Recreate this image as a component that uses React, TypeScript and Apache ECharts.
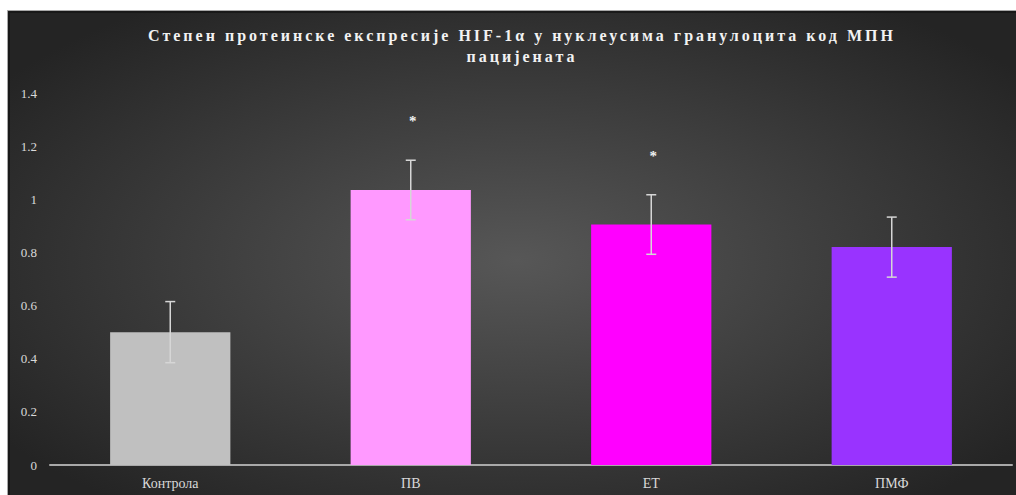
import React, { useEffect, useRef } from "react";
import * as echarts from "echarts";

// Protein expression of HIF-1α in granulocyte nuclei (mean ± error)
const categories = ["Контрола", "ПВ", "ЕТ", "ПМФ"];
const means = [0.5, 1.035, 0.905, 0.82];
const errors = [0.115, 0.112, 0.112, 0.113];
const significance = ["", "*", "*", ""];
const barColors = ["#c0c0c0", "#ff99ff", "#ff00ff", "#9933ff"];
const yTicks = { min: 0, max: 1.4, interval: 0.2 };
const titleLines = [
  "Степен протеинске експресије HIF-1α у нуклеусима гранулоцита код МПН",
  "пацијената",
];

const serif = "Times New Roman, Liberation Serif, DejaVu Serif, serif";

export default function App() {
  const ref = useRef<HTMLDivElement>(null);

  useEffect(() => {
    if (!ref.current) return;
    const chart = echarts.init(ref.current, undefined, { renderer: "svg" });

    const errorData = means.map((m, i) => [i, m - errors[i], m + errors[i], significance[i]]);

    chart.setOption({
      animation: false,
      backgroundColor: "#ffffff",
      graphic: [
        {
          type: "rect",
          z: -10,
          silent: true,
          shape: { x: 7.5, y: 10.5, width: 1020, height: 500 },
          style: {
            fill: new echarts.graphic.RadialGradient(0.5, 0.5, 0.62, [
              { offset: 0, color: "#575757" },
              { offset: 1, color: "#242424" },
            ]),
            stroke: "#a8a8a8",
            lineWidth: 1,
          },
        },
        {
          type: "rect",
          z: -9,
          silent: true,
          shape: { x: 9, y: 12, width: 1020, height: 500 },
          style: { fill: "none", stroke: "#151515", lineWidth: 1.5 },
        },
        ...titleLines.map((line, i) => ({
          type: "text",
          z: 10,
          silent: true,
          x: 522,
          y: 35 + i * 21,
          style: {
            text: line,
            fill: "#f2f2f2",
            font: `bold 16px ${serif}`,
            align: "center",
            verticalAlign: "middle",
            shadowColor: "rgba(0,0,0,0.6)",
            shadowBlur: 2,
            shadowOffsetX: 1,
            shadowOffsetY: 1,
          },
        })),
      ],
      grid: { left: 50, right: 4, top: 93, bottom: 30, containLabel: false },
      xAxis: {
        type: "category",
        data: categories,
        axisLine: { show: true, lineStyle: { color: "#a9a9a9", width: 2 } },
        axisTick: { show: false },
        axisLabel: { color: "#d9d9d9", fontFamily: serif, fontSize: 14, margin: 11 },
      },
      yAxis: {
        type: "value",
        min: yTicks.min,
        max: yTicks.max,
        interval: yTicks.interval,
        splitLine: { show: false },
        axisLine: { show: false },
        axisTick: { show: false },
        axisLabel: { color: "#d9d9d9", fontFamily: serif, fontSize: 13, margin: 13 },
      },
      series: [
        {
          type: "bar",
          barWidth: "50%",
          data: means.map((v, i) => ({ value: v, itemStyle: { color: barColors[i] } })),
          z: 2,
        },
        {
          type: "custom",
          z: 3,
          data: errorData,
          renderItem: (params: any, api: any) => {
            const x = api.value(0);
            const lo = api.coord([x, api.value(1)]);
            const hi = api.coord([x, api.value(2)]);
            const mark = errorData[params.dataIndex][3] as string;
            const cap = 5;
            const style = { stroke: "#d6d6d6", lineWidth: 1.5 };
            const children: any[] = [
              { type: "line", shape: { x1: hi[0], y1: hi[1], x2: lo[0], y2: lo[1] }, style },
              { type: "line", shape: { x1: hi[0] - cap, y1: hi[1], x2: hi[0] + cap, y2: hi[1] }, style },
              { type: "line", shape: { x1: lo[0] - cap, y1: lo[1], x2: lo[0] + cap, y2: lo[1] }, style },
            ];
            if (mark) {
              children.push({
                type: "text",
                x: hi[0] + 2,
                y: hi[1] - 39,
                style: {
                  text: mark,
                  fill: "#f2f2f2",
                  font: `bold 15px ${serif}`,
                  align: "center",
                  verticalAlign: "middle",
                },
              });
            }
            return { type: "group", children };
          },
        },
      ],
    });

    // widen the title's tracking
    ref.current.querySelectorAll("text").forEach((t) => {
      const s = t.textContent || "";
      if (titleLines.some((l) => s.includes(l))) {
        (t as SVGTextElement).style.letterSpacing = "3px";
      }
    });

    return () => chart.dispose();
  }, []);

  return (
    <div
      ref={ref}
      style={{ position: "absolute", left: 0, top: 0, width: 1016, height: 495 }}
    />
  );
}
